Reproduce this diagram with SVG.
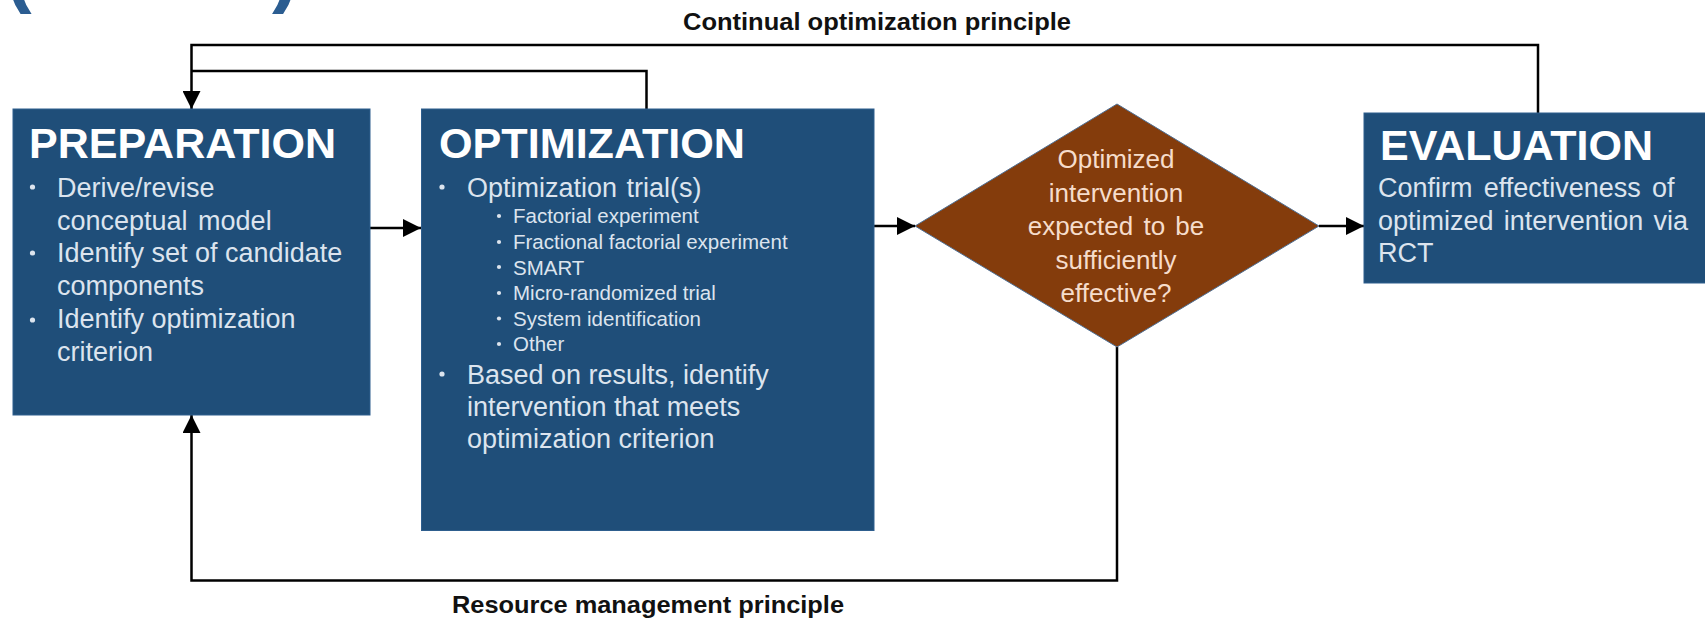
<svg xmlns="http://www.w3.org/2000/svg" width="1705" height="621" viewBox="0 0 1705 621">
  <style>
    .box { fill: #1F4E79; stroke: #2E5E8E; stroke-width: 1; }
    .dec { fill: #843C0C; stroke: #4F6F93; stroke-width: 1; }
    .title { font-family: "Liberation Sans", Arial, sans-serif; font-weight: bold; font-size: 43px; fill: #FFFFFF; }
    .body { font-family: "Liberation Sans", Arial, sans-serif; font-size: 27px; fill: #DCE4EE; }
    .sub { font-family: "Liberation Sans", Arial, sans-serif; font-size: 20.5px; fill: #DCE4EE; }
    .dtext { font-family: "Liberation Sans", Arial, sans-serif; font-size: 26px; fill: #F6DCCB; text-anchor: middle; }
    .label { font-family: "Liberation Sans", Arial, sans-serif; font-weight: bold; font-size: 24px; fill: #111111; text-anchor: middle; }
    .paren { font-family: "Liberation Sans", Arial, sans-serif; font-weight: bold; font-size: 80px; fill: #2B5D91; }
    .wire { fill: none; stroke: #000000; stroke-width: 2.5; }
    .dot { fill: #DCE4EE; }
  </style>
  <defs>
    <marker id="arrow" markerUnits="userSpaceOnUse" markerWidth="18" markerHeight="18" viewBox="0 0 10 10" refX="10" refY="5" orient="auto">
      <path d="M0,0 L10,5 L0,10 z" fill="#000000"/>
    </marker>
  </defs>

  <rect width="1705" height="621" fill="#FFFFFF"/>

  <!-- heading brackets running off the top edge -->
  <g id="heading">
    <text class="paren" x="5" y="-3">(</text>
    <text class="paren" x="272" y="-3">)</text>
  </g>

  <!-- connectors -->
  <g id="connectors">
    <line class="wire" x1="370" y1="228" x2="421" y2="228" marker-end="url(#arrow)"/>
    <line class="wire" x1="874" y1="226" x2="915" y2="226" marker-end="url(#arrow)"/>
    <line class="wire" x1="1319" y1="226" x2="1364" y2="226" marker-end="url(#arrow)"/>
    <!-- continual optimization loop back to preparation -->
    <polyline class="wire" points="1538,113 1538,45 191.5,45 191.5,109" marker-end="url(#arrow)"/>
    <polyline class="wire" points="646.5,109 646.5,71 191.5,71"/>
    <!-- resource management loop back to preparation -->
    <polyline class="wire" points="1117,347 1117,580.5 191.5,580.5 191.5,415" marker-end="url(#arrow)"/>
    <text class="label" x="877" y="30" textLength="388" lengthAdjust="spacingAndGlyphs">Continual optimization principle</text>
    <text class="label" x="648" y="613" textLength="392" lengthAdjust="spacingAndGlyphs">Resource management principle</text>
  </g>

  <g id="preparation">
    <rect class="box" x="13" y="109" width="357" height="306"/>
    <text class="title" x="29" y="158" textLength="307" lengthAdjust="spacingAndGlyphs">PREPARATION</text>
    <circle class="dot" cx="32.5" cy="187" r="2.6"/>
    <circle class="dot" cx="32.5" cy="253" r="2.6"/>
    <circle class="dot" cx="32.5" cy="320" r="2.6"/>
    <text class="body" x="57" y="197">Derive/revise</text>
    <text class="body" x="57" y="230" word-spacing="3">conceptual model</text>
    <text class="body" x="57" y="262">Identify set of candidate</text>
    <text class="body" x="57" y="295">components</text>
    <text class="body" x="57" y="328">Identify optimization</text>
    <text class="body" x="57" y="361">criterion</text>
  </g>

  <g id="optimization">
    <rect class="box" x="421.5" y="109" width="452.5" height="421.5"/>
    <text class="title" x="439" y="158" textLength="306" lengthAdjust="spacingAndGlyphs">OPTIMIZATION</text>
    <circle class="dot" cx="442" cy="187" r="2.6"/>
    <text class="body" x="467" y="197" word-spacing="2">Optimization trial(s)</text>
    <circle class="dot" cx="499" cy="216" r="2.1"/>
    <circle class="dot" cx="499" cy="242" r="2.1"/>
    <circle class="dot" cx="499" cy="267" r="2.1"/>
    <circle class="dot" cx="499" cy="293" r="2.1"/>
    <circle class="dot" cx="499" cy="318.5" r="2.1"/>
    <circle class="dot" cx="499" cy="344" r="2.1"/>
    <text class="sub" x="513" y="223">Factorial experiment</text>
    <text class="sub" x="513" y="249">Fractional factorial experiment</text>
    <text class="sub" x="513" y="274.5">SMART</text>
    <text class="sub" x="513" y="300">Micro-randomized trial</text>
    <text class="sub" x="513" y="325.5">System identification</text>
    <text class="sub" x="513" y="351">Other</text>
    <circle class="dot" cx="442" cy="374" r="2.6"/>
    <text class="body" x="467" y="384">Based on results, identify</text>
    <text class="body" x="467" y="416">intervention that meets</text>
    <text class="body" x="467" y="448">optimization criterion</text>
  </g>

  <g id="decision">
    <polygon class="dec" points="915,226 1117,104 1319,226 1117,347"/>
    <text class="dtext" x="1116" y="168">Optimized</text>
    <text class="dtext" x="1116" y="201.5">intervention</text>
    <text class="dtext" x="1116" y="235" word-spacing="3">expected to be</text>
    <text class="dtext" x="1116" y="268.5">sufficiently</text>
    <text class="dtext" x="1116" y="302">effective?</text>
  </g>

  <g id="evaluation">
    <rect class="box" x="1364" y="113" width="350" height="170"/>
    <text class="title" x="1380" y="160" textLength="273" lengthAdjust="spacingAndGlyphs">EVALUATION</text>
    <text class="body" x="1378" y="197" word-spacing="3.7">Confirm effectiveness of</text>
    <text class="body" x="1378" y="229.5" word-spacing="2.7">optimized intervention via</text>
    <text class="body" x="1378" y="262">RCT</text>
  </g>
</svg>
